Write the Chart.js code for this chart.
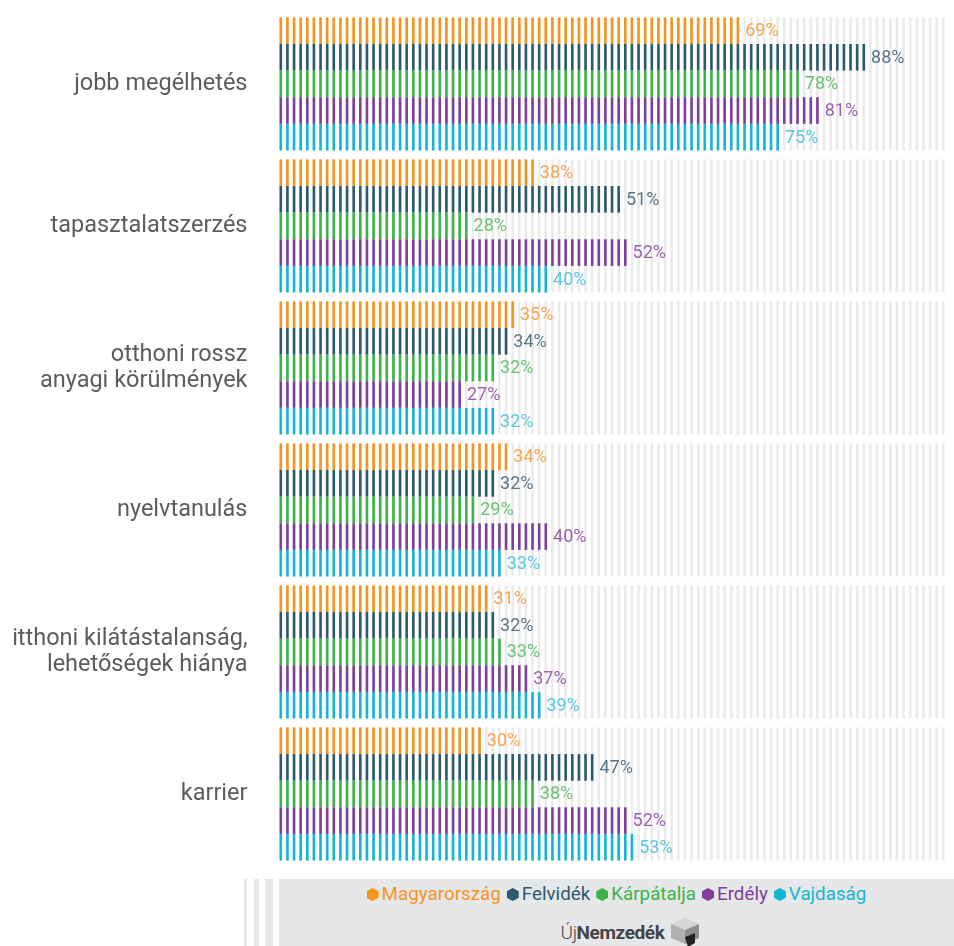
<!DOCTYPE html>
<html lang="hu">
<head>
<meta charset="utf-8">
<script src="https://cdn.jsdelivr.net/npm/chart.js@4.4.1/dist/chart.umd.min.js"></script>
<style>
  html, body { margin: 0; padding: 0; background: #fff; }
  #wrap { position: relative; width: 954px; height: 946px; overflow: hidden; font-family: Roboto, sans-serif; }
  #chart { position: absolute; left: 0; top: 0; }
  .stripe { position: absolute; top: 879px; height: 67px; background: #e6e7e8; }
  #legendBox { position: absolute; left: 279px; top: 879px; width: 675px; height: 67px; background: #e6e7e8; }
  #legend { position: absolute; left: 0; right: 0; top: 4px; text-align: center; font-size: 18.8px; white-space: nowrap; }
  #legend span { margin: 0 3px; }
  #legend i { display: inline-block; width: 12px; height: 13px; margin-right: 3px; vertical-align: -1px;
    clip-path: polygon(50% 0, 100% 25%, 100% 75%, 50% 100%, 0 75%, 0 25%); }
  #logo { position: absolute; left: 30px; right: 0; top: 37px; text-align: center; font-size: 19px; color: #444; letter-spacing: -0.4px; }
  #logo .uj { font-weight: 300; }
  #logo .nz { font-weight: 700; }
  #logo svg { vertical-align: -9px; margin-left: 4px; }
</style>
</head>
<body>
<div id="wrap">
  <canvas id="chart" width="954" height="878"></canvas>
  <div class="stripe" style="left:244px;width:3px"></div>
  <div class="stripe" style="left:254px;width:5px"></div>
  <div class="stripe" style="left:265px;width:8px"></div>
  <div id="legendBox">
    <div id="legend"></div>
    <div id="logo"><span class="uj">Új</span><span class="nz">Nemzedék</span><svg width="34" height="32" viewBox="0 0 34 32">
      <polygon points="17,2 31,8 17,14 3,8" fill="#d6d6d6"/>
      <polygon points="3,8 17,14 17,28 3,22" fill="#b0b0b0"/>
      <polygon points="31,8 17,14 17,28 31,22" fill="#8e8e8e"/>
      <polygon points="17,21 27,17 27,27 20,31" fill="#222"/>
    </svg></div>
  </div>
</div>
<script>
const KATEGORIAK = [
  'jobb megélhetés',
  'tapasztalatszerzés',
  ['otthoni rossz', 'anyagi körülmények'],
  'nyelvtanulás',
  ['itthoni kilátástalanság,', 'lehetőségek hiánya'],
  'karrier',
];
const REGIOK       = ['Magyarország', 'Felvidék', 'Kárpátalja', 'Erdély', 'Vajdaság'];
const SZINEK       = ['#f7941d', '#2b5a6f', '#3cb44a', '#7e3f98', '#15b6d3'];
const CIMKE_SZINEK = ['#f9a54f', '#5b7686', '#6ac373', '#9b63ae', '#5bc7df'];

const magyarorszag = [69, 38, 35, 34, 31, 30];
const felvidek     = [88, 51, 34, 32, 32, 47];
const karpatalja   = [78, 28, 32, 29, 33, 38];
const erdely       = [81, 52, 27, 40, 37, 52];
const vajdasag     = [75, 40, 32, 33, 39, 53];
const ADATOK = [magyarorszag, felvidek, karpatalja, erdely, vajdasag];

const SKALA_MAX = 100;
const CSIK_SZ   = 2.6;   // egy függőleges csík szélessége (px)

// legenda (HTML)
document.getElementById('legend').innerHTML = REGIOK.map((r, i) =>
  `<span style="color:${SZINEK[i]}"><i style="background:${SZINEK[i]}"></i>${r}</span>`
).join('');

// szürke háttércsíkok kategóriánként
const hatterCsikok = {
  id: 'hatterCsikok',
  beforeDatasetsDraw(chart) {
    const { ctx, scales: { x } } = chart;
    const elso = chart.getDatasetMeta(0).data;
    const utolso = chart.getDatasetMeta(ADATOK.length - 1).data;
    ctx.save();
    ctx.fillStyle = '#ebebeb';
    elso.forEach((bar, i) => {
      const top = bar.y - bar.height / 2;
      const bottom = utolso[i].y + utolso[i].height / 2;
      for (let v = 0; v <= SKALA_MAX; v++) {
        ctx.fillRect(x.getPixelForValue(v), top, CSIK_SZ, bottom - top);
      }
    });
    ctx.restore();
  },
};

// színes csíkos oszlopok + százalék feliratok
const csikosOszlopok = {
  id: 'csikosOszlopok',
  afterDatasetsDraw(chart) {
    const { ctx, scales: { x } } = chart;
    ctx.save();
    chart.data.datasets.forEach((ds, di) => {
      chart.getDatasetMeta(di).data.forEach((bar, i) => {
        const val = ds.data[i];
        const top = bar.y - bar.height / 2;
        ctx.fillStyle = SZINEK[di];
        for (let v = 0; v <= val; v++) {
          ctx.fillRect(x.getPixelForValue(v), top, CSIK_SZ, bar.height);
        }
        ctx.fillStyle = CIMKE_SZINEK[di];
        ctx.font = '18px Roboto, sans-serif';
        ctx.textAlign = 'left';
        ctx.textBaseline = 'middle';
        ctx.fillText(val + '%', x.getPixelForValue(val) + CSIK_SZ + 6, bar.y + 1);
      });
    });
    ctx.restore();
  },
};

new Chart(document.getElementById('chart'), {
  type: 'bar',
  data: {
    labels: KATEGORIAK,
    datasets: REGIOK.map((r, i) => ({
      label: r,
      data: ADATOK[i],
      backgroundColor: 'rgba(0,0,0,0)',
      borderWidth: 0,
      barPercentage: 1,
      categoryPercentage: 0.937,
    })),
  },
  options: {
    indexAxis: 'y',
    responsive: false,
    animation: false,
    layout: { padding: { top: 8, bottom: 13, right: 12, left: 0 } },
    plugins: { legend: { display: false }, tooltip: { enabled: false } },
    scales: {
      x: { min: 0, max: SKALA_MAX, display: false },
      y: {
        // a tickLength adja a címkék és az oszlopok közti rést (a padding felül/alul is számítana)
        grid: { display: false, drawTicks: true, tickLength: 32 },
        border: { display: false },
        afterFit: s => { s.width = 279.5; },
        ticks: {
          padding: 0,
          color: '#5c5c5c',
          font: { family: 'Roboto, sans-serif', size: 23.5, lineHeight: 1.1 },
        },
      },
    },
  },
  plugins: [hatterCsikok, csikosOszlopok],
});
</script>
</body>
</html>
